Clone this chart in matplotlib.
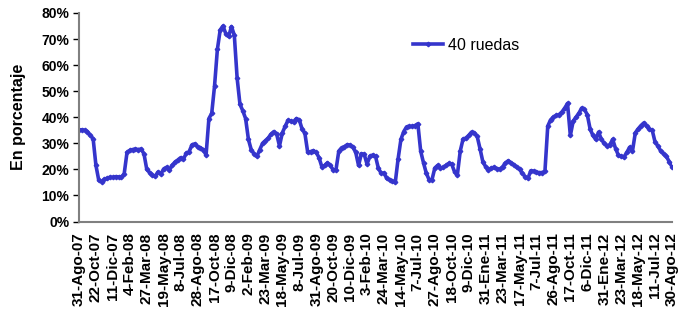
import matplotlib
matplotlib.use("Agg")
import matplotlib.pyplot as plt

plt.rcParams['font.family'] = ['Liberation Sans', 'DejaVu Sans']

# Fechas que se muestran en el eje (una cada 6 puntos de la serie)
date_labels = [
    "31-Ago-07", "22-Oct-07", "11-Dic-07", "4-Feb-08", "27-Mar-08", "19-May-08",
    "8-Jul-08", "28-Ago-08", "17-Oct-08", "9-Dic-08", "2-Feb-09", "23-Mar-09",
    "18-May-09", "8-Jul-09", "31-Ago-09", "20-Oct-09", "10-Dic-09", "3-Feb-10",
    "24-Mar-10", "14-May-10", "7-Jul-10", "27-Ago-10", "18-Oct-10", "9-Dic-10",
    "31-Ene-11", "23-Mar-11", "17-May-11", "7-Jul-11", "26-Ago-11", "17-Oct-11",
    "6-Dic-11", "31-Ene-12", "23-Mar-12", "18-May-12", "11-Jul-12", "30-Ago-12",
]
points_per_label = 6

# volatilidad 40 ruedas, en %
vol_40 = [
    35.1, 35.2, 35.0, 34.5, 33.0, 31.8,
    21.5, 15.8, 15.3, 16.2, 16.6, 17.0,
    16.9, 17.2, 17.1, 17.0, 18.3, 26.5,
    27.3, 27.6, 27.8, 27.6, 27.8, 26.0,
    20.0, 18.8, 17.8, 17.4, 19.0, 18.2,
    20.2, 20.8, 19.8, 21.5, 22.8, 23.6,
    24.5, 24.0, 26.2, 26.8, 29.4, 29.8,
    28.6, 28.3, 27.6, 25.5, 39.5, 41.5,
    52.0, 66.0, 73.5, 75.0, 72.0, 71.0,
    74.8, 71.5, 55.0, 45.0, 42.5, 39.5,
    31.5, 27.5, 26.0, 25.0, 27.5, 30.0,
    31.0, 32.0, 33.5, 34.5, 33.5, 29.0,
    34.0, 36.5, 38.8, 38.5, 38.3, 39.5,
    39.0, 35.5, 33.8, 26.5, 26.8, 27.2,
    26.5, 24.5, 21.0, 21.5, 22.5, 21.5,
    19.8, 19.8, 27.0, 28.3, 28.7, 29.5,
    29.3, 28.5, 26.5, 21.5, 26.0, 25.8,
    22.0, 25.0, 25.5, 25.0, 20.5, 18.5,
    18.6, 16.5, 16.0, 15.5, 15.0, 24.0,
    31.5, 34.5, 36.3, 36.5, 36.5, 36.8,
    37.5, 27.0, 22.5, 18.5, 16.0, 16.0,
    20.5, 21.5, 20.5, 20.8, 21.5, 22.3,
    22.0, 19.0, 18.0, 27.0, 31.6, 32.0,
    33.0, 34.3, 34.0, 32.7, 28.0, 23.0,
    21.0, 19.8, 20.5, 20.8, 20.3, 20.0,
    21.0, 22.4, 23.3, 22.5, 21.8, 20.8,
    20.0, 18.5, 17.2, 16.6, 19.5, 19.3,
    19.0, 18.7, 18.8, 19.2, 36.6, 39.0,
    40.0, 40.7, 41.0, 42.0, 43.5, 45.3,
    33.0, 38.5, 40.0, 41.5, 43.5, 43.0,
    41.0, 35.5, 33.0, 31.5, 34.3, 31.5,
    30.0, 29.0, 29.5, 31.5, 28.0, 25.5,
    25.0, 24.8, 26.5, 28.5, 27.0, 34.0,
    35.5, 36.8, 37.8, 36.5, 35.5, 35.0,
    30.5, 29.0, 27.0, 26.0, 25.0, 23.0,
    21.0,
]

fig = plt.figure(figsize=(6.94, 3.14), dpi=100)
ax = fig.add_axes([79 / 694, 1 - 221.5 / 314, 593 / 694, 208.5 / 314])

blue = '#3535CC'
ax.plot(range(len(vol_40)), [v / 100 for v in vol_40], color=blue, lw=2.6,
        marker='D', ms=2.3, label='40 ruedas')

ax.set_xlim(0, len(vol_40) - 1)
ax.set_ylim(0, 0.8)
ax.set_yticks([i / 10 for i in range(9)])
ax.set_yticklabels([f"{i * 10}%" for i in range(9)], fontweight='bold', fontsize=10)
ax.set_xticks(range(0, len(vol_40), points_per_label))
ax.set_xticklabels(date_labels, rotation=90, fontweight='bold', fontsize=11, va='top')

for s in ['top', 'right']:
    ax.spines[s].set_visible(False)
for s in ['left', 'bottom']:
    ax.spines[s].set_color('#808080')
    ax.spines[s].set_linewidth(1.5)
ax.tick_params(axis='y', length=4, width=1, color='black', pad=3)
ax.tick_params(axis='x', length=0, pad=8)

fig.text(19 / 694, 1 - 117 / 314, 'En porcentaje', rotation=90, ha='center',
         va='center', fontweight='bold', fontsize=11.5)

ax.legend(loc='center left', bbox_to_anchor=(413 / 694, 1 - 45 / 314),
          bbox_transform=fig.transFigure, frameon=False, fontsize=11.5,
          handlelength=1.9, handletextpad=0.3, borderpad=0, borderaxespad=0)

fig.savefig('out.png', dpi=100)
